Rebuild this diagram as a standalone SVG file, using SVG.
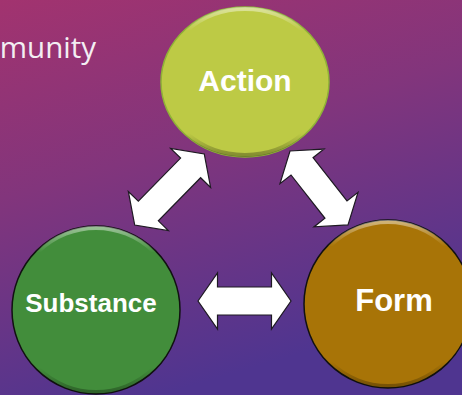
<svg xmlns="http://www.w3.org/2000/svg" width="462" height="395" viewBox="0 0 462 395">
<defs>
<linearGradient id="bg" x1="0" y1="0" x2="0.35" y2="1">
<stop offset="0" stop-color="#a2336f"/>
<stop offset="0.45" stop-color="#82357c"/>
<stop offset="1" stop-color="#4f3590"/>
</linearGradient>
<linearGradient id="bevel" x1="0" y1="0" x2="0" y2="1">
<stop offset="0" stop-color="#ffffff" stop-opacity="0.45"/>
<stop offset="0.15" stop-color="#ffffff" stop-opacity="0"/>
<stop offset="0.85" stop-color="#000000" stop-opacity="0"/>
<stop offset="1" stop-color="#000000" stop-opacity="0.3"/>
</linearGradient>
<style>
.lbl{font-family:"Liberation Sans",Arial,sans-serif;font-weight:bold;fill:#ffffff;text-anchor:middle}
.bev{fill:none;stroke:url(#bevel);stroke-width:4}
.arrow{fill:#ffffff;stroke:#1e1a22;stroke-width:1.2;stroke-linejoin:miter}
</style>
</defs>
<rect width="462" height="395" fill="url(#bg)"/>
<text x="96" y="58" font-family="'Open Sans',sans-serif" font-size="29.5" fill="#f3eef3" text-anchor="end">munity</text>
<g id="connectors">
<polygon class="arrow" transform="translate(198,301)" points="0,0 19.5,-28 19.5,-14 73.5,-14 73.5,-28 93,0 73.5,28 73.5,14 19.5,14 19.5,28"/>
<polygon class="arrow" transform="translate(134.7,225) rotate(-45.6)" points="0,0 19.5,-28 19.5,-14 79.9,-14 79.9,-28 99.4,0 79.9,28 79.9,14 19.5,14 19.5,28"/>
<polygon class="arrow" transform="translate(290,151) rotate(51.9)" points="0,0 19.5,-28 19.5,-14 74.5,-14 74.5,-28 94,0 74.5,28 74.5,14 19.5,14 19.5,28"/>
</g>
<g id="action">
<ellipse cx="245" cy="82" rx="84" ry="75" fill="#bdca45" stroke="#8fb236" stroke-width="1.5"/>
<ellipse class="bev" cx="245" cy="82" rx="82" ry="73"/>
<text class="lbl" x="245" y="91" font-size="30">Action</text>
</g>
<g id="substance">
<ellipse cx="96" cy="310" rx="84" ry="84" fill="#428d3b" stroke="#111111" stroke-width="1.5"/>
<ellipse class="bev" cx="96" cy="310" rx="82" ry="82"/>
<text class="lbl" x="91" y="312" font-size="26">Substance</text>
</g>
<g id="form">
<ellipse cx="388" cy="304" rx="84" ry="84" fill="#a87407" stroke="#111111" stroke-width="1.5"/>
<ellipse class="bev" cx="388" cy="304" rx="82" ry="82"/>
<text class="lbl" x="394" y="311" font-size="31">Form</text>
</g>
</svg>
